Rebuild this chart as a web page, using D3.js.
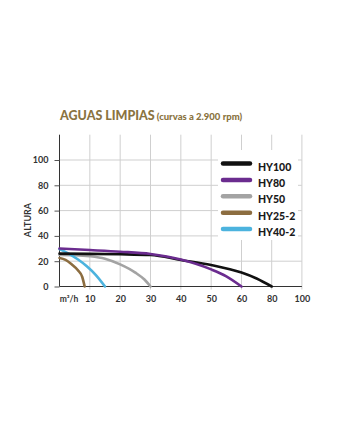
<!DOCTYPE html>
<html><head><meta charset="utf-8">
<script src="https://cdn.jsdelivr.net/npm/d3@7"></script>
<style>body{margin:0;background:#fff}svg{display:block}</style>
</head><body>
<script>
const xTicks = [10, 20, 30, 40, 50, 60, 80, 100];
const yTicks = [0, 20, 40, 60, 80, 100];
const seriesNames = ["HY100", "HY80", "HY50", "HY25-2", "HY40-2"];
const seriesColors = ["#111111", "#6b2c8f", "#a3a3a3", "#8c6d40", "#4cb3de"];
const hy100 = [[0,26],[10,25.8],[20,25.5],[30,24.9],[40,21],[50,17],[60,11],[70,6.3],[80,0]];
const hy80 = [[0,30],[10,28.8],[20,27.5],[30,25.7],[40,21.3],[50,13.5],[55,8],[60,0]];
const hy50 = [[0,25],[5,24.8],[10,24],[15,22],[20,17.5],[25,11],[28,5.5],[30,0]];
const hy252 = [[0,22.5],[2,21],[4,17.5],[6,13],[7.5,7.5],[8.3,0]];
const hy402 = [[0,29.5],[3,26],[6,21.5],[9,16],[12,9],[15,0]];
const seriesData = [hy100, hy80, hy50, hy252, hy402];
const drawOrder = [2, 3, 4, 0, 1];

const W = 350, H = 443;
const svg = d3.select("body").append("svg").attr("width", W).attr("height", H);
const x = d3.scaleLinear().domain([0, 60, 80, 100]).range([59.5, 241.5, 271.7, 301.9]);
const y = d3.scaleLinear().domain([0, 120]).range([286.5, 134.7]);
const font = "Lato, 'Open Sans', sans-serif";

// title
const title = svg.append("text").attr("x", 60).attr("y", 120).attr("fill", "#8a7340")
  .style("font-family", font).style("font-weight", 900);
title.append("tspan").attr("font-size", 12.5).text("AGUAS LIMPIAS");
title.append("tspan").attr("font-size", 9.5).attr("dx", 2).text("(curvas a 2.900 rpm)");

// grid
const g = svg.append("g");
g.selectAll(".vg").data(xTicks).join("line")
  .attr("x1", d => x(d)).attr("x2", d => x(d)).attr("y1", y(120)).attr("y2", y(0) + 3)
  .attr("stroke", "#cfcfcf").attr("stroke-width", 1);
g.selectAll(".hg").data(yTicks.filter(d => d > 0)).join("line")
  .attr("x1", x(0)).attr("x2", x(100)).attr("y1", d => y(d)).attr("y2", d => y(d))
  .attr("stroke", "#cfcfcf").attr("stroke-width", 1);

// axes
const yAxis = svg.append("g").attr("transform", `translate(${x(0)},0)`)
  .call(d3.axisLeft(y).tickValues(yTicks).tickSize(5).tickPadding(6));
yAxis.select(".domain").attr("d", `M0,${y(120)}V${y(0)}`).attr("stroke", "#333");
yAxis.selectAll(".tick line").attr("stroke", "#555");
yAxis.selectAll("text").attr("fill", "#333").style("font-family", font).style("font-weight", 700).attr("font-size", 9);

const xAxis = svg.append("g").attr("transform", `translate(0,${y(0)})`)
  .call(d3.axisBottom(x).tickValues(xTicks).tickSize(0).tickPadding(9));
xAxis.select(".domain").attr("d", `M${x(0)},0H${x(100)}`).attr("stroke", "#333");
xAxis.selectAll("text").attr("fill", "#333").style("font-family", font).style("font-weight", 700).attr("font-size", 9);

svg.append("text").attr("x", 69).attr("y", 302).attr("text-anchor", "middle")
  .attr("fill", "#333").style("font-family", font).style("font-weight", 700).attr("font-size", 8.5)
  .text("m³/h");

svg.append("text").attr("transform", "translate(31,220) rotate(-90)").attr("text-anchor", "middle")
  .attr("fill", "#333").style("font-family", font).style("font-weight", 700).attr("font-size", 9)
  .text("ALTURA");

// curves
const line = d3.line().x(d => x(d[0])).y(d => y(d[1])).curve(d3.curveMonotoneX);
svg.append("g").selectAll("path").data(drawOrder).join("path")
  .attr("d", i => line(seriesData[i])).attr("fill", "none")
  .attr("stroke", i => seriesColors[i]).attr("stroke-width", 2.6).attr("stroke-linecap", "round");

// legend
const lg = svg.append("g");
lg.append("rect").attr("x", 218).attr("y", 150).attr("width", 80).attr("height", 90).attr("fill", "#fff");
const items = lg.selectAll(".li").data(seriesNames).join("g")
  .attr("transform", (d, i) => `translate(0,${163.5 + i * 16.4})`);
items.append("line").attr("x1", 223).attr("x2", 250).attr("y1", 0).attr("y2", 0)
  .attr("stroke", (d, i) => seriesColors[i]).attr("stroke-width", 4.5).attr("stroke-linecap", "round");
items.append("text").attr("x", 258).attr("y", 7).attr("fill", "#1a1a1a")
  .style("font-family", font).style("font-weight", 900).attr("font-size", 10.5).text(d => d);
</script>
</body></html>
